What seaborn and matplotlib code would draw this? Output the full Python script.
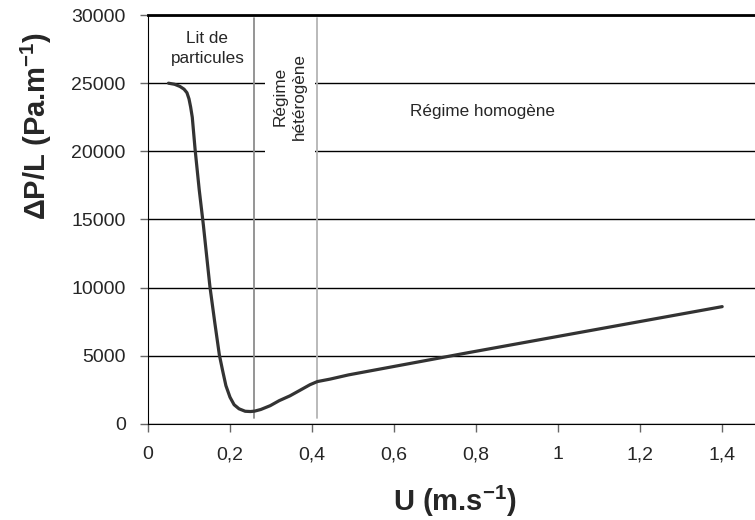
import matplotlib
matplotlib.use('Agg')
import matplotlib.pyplot as plt
from matplotlib.patches import Rectangle
import seaborn as sns
import pandas as pd

# courbe perte de charge
u = [0.05, 0.065, 0.078, 0.088, 0.095, 0.1, 0.104, 0.108, 0.115, 0.125,
     0.135, 0.151, 0.163, 0.174, 0.182, 0.19, 0.2, 0.21, 0.222, 0.237,
     0.25, 0.26, 0.275, 0.298, 0.32, 0.346, 0.37, 0.395, 0.413, 0.444,
     0.489, 0.777, 1.4]
dp = [25000, 24920, 24760, 24560, 24300, 23850, 23250, 22500, 20100, 17160,
      14600, 10070, 7400, 5060, 3900, 2800, 1950, 1400, 1100, 920,
      900, 930, 1050, 1330, 1700, 2050, 2450, 2870, 3100, 3280,
      3590, 5200, 8600]

limites = [0.258, 0.413]
limite_couleurs = ['#8c8c8c', '#b4b4b4']

xticks = [0, 0.2, 0.4, 0.6, 0.8, 1.0, 1.2, 1.4]
xtick_labels = ['0', '0,2', '0,4', '0,6', '0,8', '1', '1,2', '1,4']
yticks = [0, 5000, 10000, 15000, 20000, 25000, 30000]

sns.set_style('white')
plt.rcParams['font.family'] = ['Liberation Sans', 'DejaVu Sans']
plt.rcParams['mathtext.fontset'] = 'custom'
plt.rcParams['mathtext.bf'] = 'Liberation Sans:bold'
plt.rcParams['mathtext.rm'] = 'Liberation Sans'

df = pd.DataFrame({'U': u, 'dP': dp})

fig = plt.figure(figsize=(7.55, 5.2), dpi=100)
ax = fig.add_axes([0.196, 0.185, 0.804, 0.786])

ax.set_axisbelow(True)
ax.yaxis.grid(True, color='black', linewidth=1.0)
ax.xaxis.grid(False)

# masque blanc derriere le texte "Régime hétérogène"
ax.add_patch(Rectangle((0.285, 16500), 0.122, 12800, facecolor='white',
                       edgecolor='none', zorder=1))

for xl, c in zip(limites, limite_couleurs):
    ax.plot([xl, xl], [450, 29800], color=c, linewidth=1.3, zorder=2)

sns.lineplot(data=df, x='U', y='dP', ax=ax, color='#333333', linewidth=2.3, zorder=3)

ax.set_xlim(0, 1.48)
ax.set_ylim(0, 30000)
ax.set_xticks(xticks)
ax.set_xticklabels(xtick_labels)
ax.set_yticks(yticks)
ax.tick_params(axis='both', labelsize=14, direction='out', length=6,
               width=1, color='#666666', bottom=True, left=True)
ax.tick_params(axis='x', pad=10)
ax.tick_params(axis='y', pad=10)

for s in ['left', 'bottom', 'top']:
    ax.spines[s].set_color('black')
ax.spines['top'].set_linewidth(2)
ax.spines['right'].set_visible(False)

ax.set_xlabel('U (m.s$^{\\mathbf{-1}}$)', fontsize=21, fontweight='bold', va='center')
ax.set_ylabel('ΔP/L (Pa.m$^{\\mathbf{-1}}$)', fontsize=21, fontweight='bold', va='center')
ax.xaxis.set_label_coords(0.506, -0.19)
ax.yaxis.set_label_coords(-0.1845, 0.729)

ax.text(0.145, 27550, 'Lit de\nparticules', ha='center', va='center', fontsize=12.3,
        linespacing=1.35)
ax.text(0.346, 24000, 'Régime\nhétérogène', ha='center', va='center', rotation=90,
        fontsize=12.3, linespacing=1.35, zorder=4)
ax.text(0.815, 22950, 'Régime homogène', ha='center', va='center', fontsize=12.3)

fig.savefig('out.png', dpi=100)
